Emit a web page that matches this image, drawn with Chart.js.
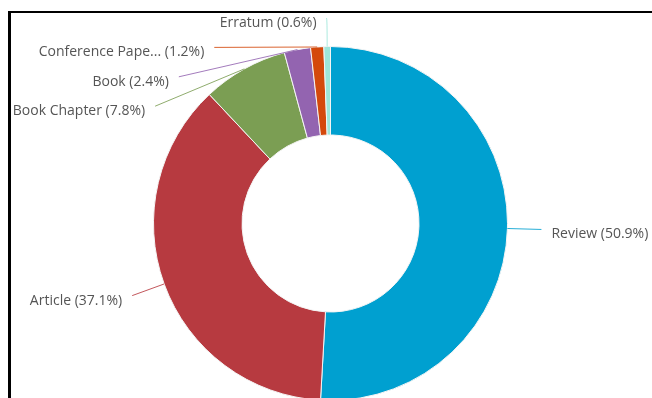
<!DOCTYPE html>
<html lang="en">
<head>
<meta charset="UTF-8">
<title>Documents by type</title>
<style>
    html, body { margin: 0; padding: 0; background: #fff; }
    body { width: 652px; height: 398px; overflow: hidden; position: relative; }
    .frame {
        position: absolute;
        left: 8px; top: 11px; right: 0; bottom: 0;
        border-top: 2px solid #000;
        border-left: 3px solid #000;
    }
    .chart-box { position: absolute; left: 0; top: 0; width: 641px; height: 385px; }
</style>
<script src="https://cdn.jsdelivr.net/npm/chart.js"></script>
</head>
<body>
<div class="frame">
    <div class="chart-box"><canvas id="typeChart"></canvas></div>
</div>
<script>
    // document types and their share of the total (%)
    const docTypes = ['Review', 'Article', 'Book Chapter', 'Book', 'Conference Paper', 'Erratum'];
    const docShares = [50.9, 37.1, 7.8, 2.4, 1.2, 0.6];
    const sliceColors = ['#00a0d0', '#b73a40', '#7b9e53', '#9364b0', '#d4490c', '#9ee6d9'];

    const labelFont = '14px "Open Sans", "Noto Sans", sans-serif';
    const labelGap = 29.4;   // vertical room taken by one label
    const labelTop = 5;      // highest a connector may end
    const labelReach = 34;   // how far outside the ring connectors end

    function labelText(i) {
        let name = docTypes[i];
        if (name.length > 15) name = name.slice(0, 15) + '...';
        return name + ' (' + docShares[i].toFixed(1) + '%)';
    }

    // outside labels with leader lines, stacked per side
    const pieLabels = {
        id: 'pieLabels',
        afterDatasetsDraw(chart) {
            const ctx = chart.ctx;
            const arcs = chart.getDatasetMeta(0).data;
            const items = arcs.map((arc, i) => {
                const p = arc.getProps(['x', 'y', 'startAngle', 'endAngle', 'outerRadius'], true);
                const mid = (p.startAngle + p.endAngle) / 2;
                const reach = p.outerRadius + labelReach;
                return {
                    i: i, cx: p.x, cy: p.y, reach: reach,
                    left: Math.cos(mid) < 0,
                    ax: p.x + Math.cos(mid) * p.outerRadius,
                    ay: p.y + Math.sin(mid) * p.outerRadius,
                    ny: p.y + Math.sin(mid) * reach
                };
            });

            [true, false].forEach(side => {
                const group = items.filter(it => it.left === side).sort((a, b) => a.ny - b.ny);
                let prev = -Infinity;
                group.forEach(it => {
                    it.ly = Math.max(it.ny, prev + labelGap, labelTop);
                    // a label held at the top edge keeps its natural x
                    it.xy = (it.ly === labelTop && it.ny < labelTop) ? it.ny : it.ly;
                    prev = it.ly;
                });
            });

            ctx.save();
            ctx.font = labelFont;
            ctx.textBaseline = 'middle';
            items.forEach(it => {
                const dy = it.xy - it.cy;
                const dx = Math.sqrt(Math.max(it.reach * it.reach - dy * dy, 0));
                const ex = it.left ? it.cx - dx : it.cx + dx;
                const ey = it.ly;

                ctx.strokeStyle = sliceColors[it.i];
                ctx.globalAlpha = 0.85;
                ctx.lineWidth = 1;
                ctx.beginPath();
                ctx.moveTo(ex, ey);
                if (Math.abs(ex - it.ax) < Math.abs(ey - it.ay)) {
                    ctx.quadraticCurveTo(it.ax, ey, it.ax, it.ay);
                } else {
                    ctx.lineTo(it.ax, it.ay);
                }
                ctx.stroke();

                ctx.globalAlpha = 1;
                ctx.fillStyle = '#555';
                ctx.textAlign = it.left ? 'right' : 'left';
                ctx.fillText(labelText(it.i), it.left ? ex - 10 : ex + 10, ey + 5);
            });
            ctx.restore();
        }
    };

    new Chart(document.getElementById('typeChart'), {
        type: 'doughnut',
        data: {
            labels: docTypes,
            datasets: [{
                data: docShares,
                backgroundColor: sliceColors,
                borderColor: '#f4f4f4',
                borderWidth: 1
            }]
        },
        options: {
            responsive: true,
            maintainAspectRatio: false,
            animation: false,
            events: [],
            radius: 177,
            cutout: '50%',
            layout: { padding: { left: 0, right: 2, top: 36, bottom: 0 } },
            plugins: {
                legend: { display: false },
                tooltip: { enabled: false }
            }
        },
        plugins: [pieLabels]
    });
</script>
</body>
</html>
